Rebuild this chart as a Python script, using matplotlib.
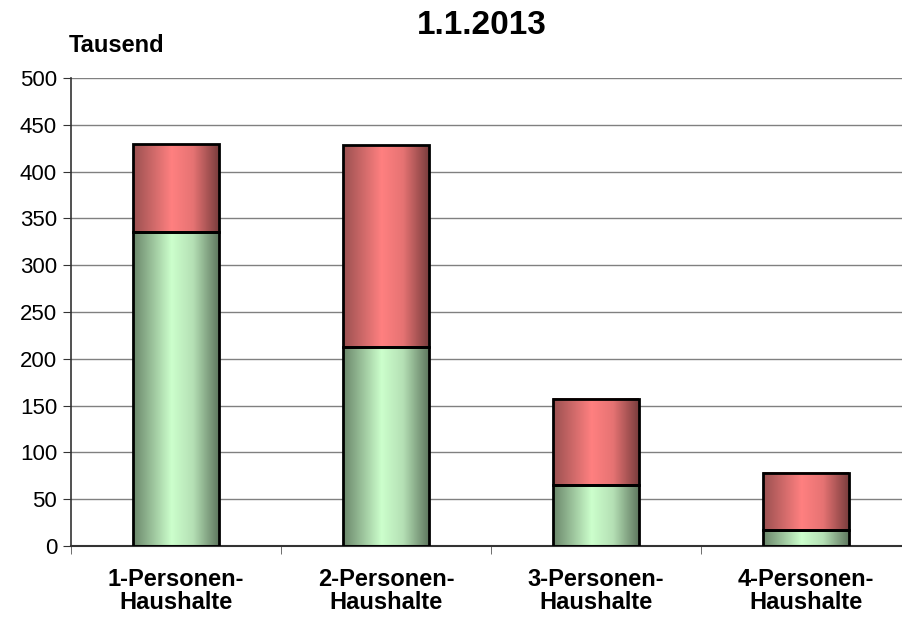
import numpy as np
import matplotlib.pyplot as plt
from matplotlib.colors import LinearSegmentedColormap

plt.rcParams['font.family'] = ['Liberation Sans', 'DejaVu Sans']

# data (Tausend)
categories = ["1-Personen-\nHaushalte", "2-Personen-\nHaushalte",
              "3-Personen-\nHaushalte", "4-Personen-\nHaushalte"]
unten = [336, 213, 65, 17]
oben = [93, 215, 92, 61]
title = "1.1.2013"
unit = "Tausend"

BAR_W = 0.405
green_cmap = LinearSegmentedColormap.from_list(
    "g", [(0, "#6a866a"), (0.45, "#ccffcc"), (0.7, "#b5e0b5"), (1, "#5f785f")])
red_cmap = LinearSegmentedColormap.from_list(
    "r", [(0, "#9a5050"), (0.45, "#ff8080"), (0.7, "#e67373"), (1, "#7a3d3d")])

fig = plt.figure(figsize=(9.02, 6.17), dpi=100)
ax = fig.add_axes([71/902, 1 - 546/617, 840/902, 468/617])

x = np.arange(len(categories))
b1 = ax.bar(x, unten, width=BAR_W, color='none', edgecolor='black', lw=2, zorder=3)
b2 = ax.bar(x, oben, bottom=unten, width=BAR_W, color='none', edgecolor='black', lw=2, zorder=3)

# horizontal gradient inside each bar
grad = np.linspace(0, 1, 256).reshape(1, -1)
for bars, cmap in ((b1, green_cmap), (b2, red_cmap)):
    for p in bars:
        x0, y0 = p.get_x(), p.get_y()
        ax.imshow(grad, cmap=cmap, aspect='auto', zorder=2,
                  extent=[x0, x0 + p.get_width(), y0, y0 + p.get_height()])

ax.set_xlim(-0.5, 3.5)
ax.set_ylim(0, 500)
ax.set_yticks(np.arange(0, 501, 50))
ax.set_xticks(x)
ax.set_xticklabels(categories, fontsize=17, fontweight='bold', linespacing=1.0)
ax.set_xticks(np.arange(-0.5, 4, 1), minor=True)
ax.tick_params(axis='x', which='major', length=0, pad=16)
ax.tick_params(axis='x', which='minor', length=6, color='#555555')
ax.tick_params(axis='y', labelsize=16, length=6, color='#333333', pad=4)

ax.grid(axis='y', color='#808080', lw=1, zorder=0)
for s in ('top', 'right'):
    ax.spines[s].set_visible(False)
ax.spines['left'].set_color('#333333')
ax.spines['bottom'].set_color('#333333')
ax.spines['left'].set_linewidth(1.2)
ax.spines['bottom'].set_linewidth(1.5)

fig.text(482/902, 1 - 25/617, title, ha='center', va='center', fontsize=24, fontweight='bold')
fig.text(69/902, 1 - 46/617, unit, ha='left', va='center', fontsize=17, fontweight='bold')

fig.savefig("out.png", dpi=100)
